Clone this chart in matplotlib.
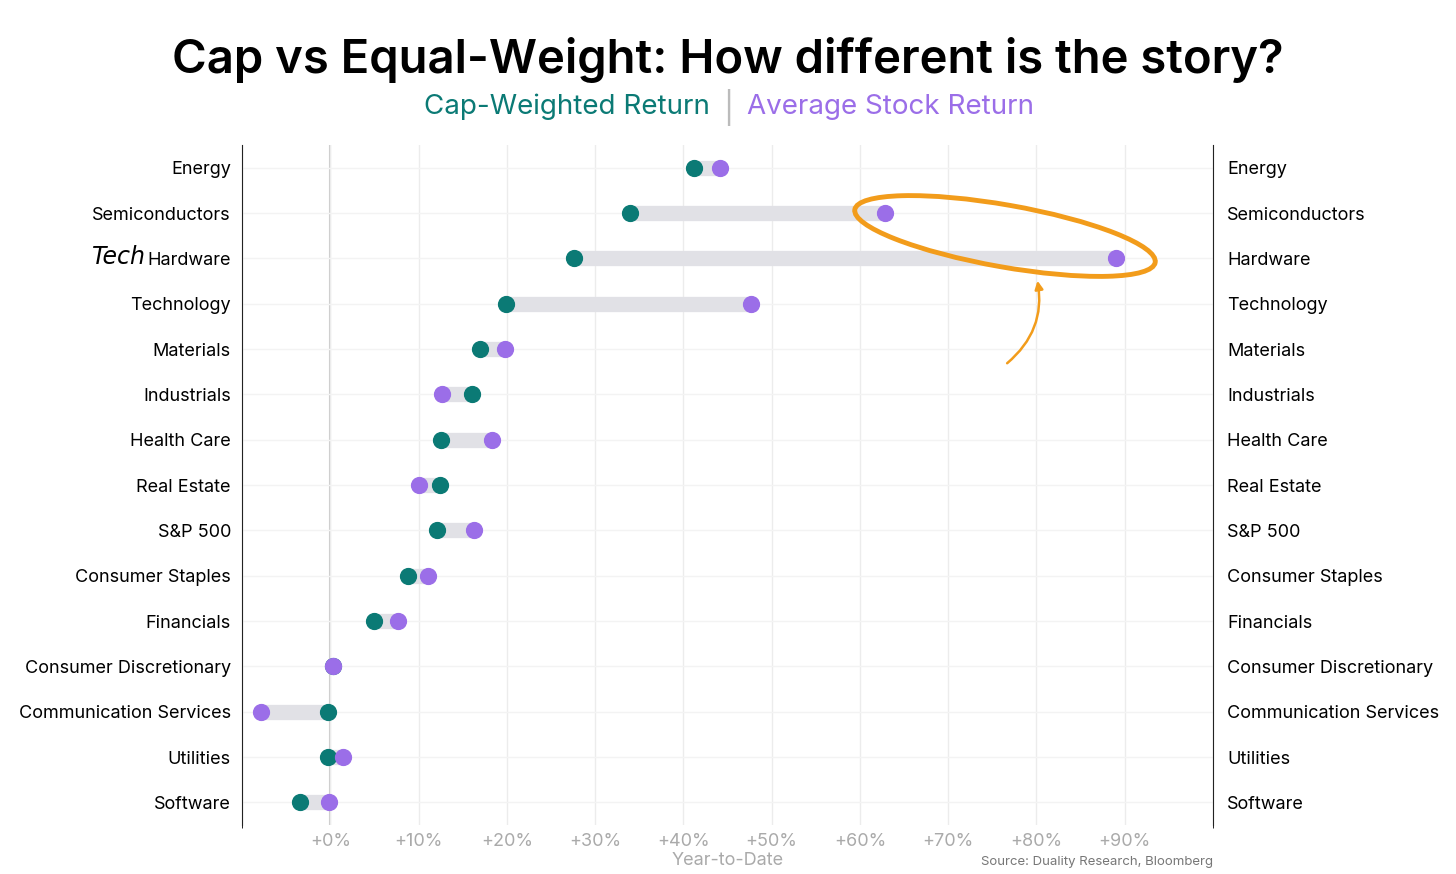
import matplotlib.pyplot as plt
import numpy as np
from matplotlib.patches import Ellipse
from matplotlib.transforms import IdentityTransform

sectors = ['Energy', 'Semiconductors', 'Hardware', 'Technology', 'Materials', 'Industrials',
           'Health Care', 'Real Estate', 'S&P 500', 'Consumer Staples', 'Financials',
           'Consumer Discretionary', 'Communication Services', 'Utilities', 'Software']
cap_ret = [41.2, 33.9, 27.6, 19.9, 17.0, 16.1, 12.6, 12.4, 12.1, 8.8, 4.9, 0.3, -0.2, -0.2, -3.4]
avg_ret = [44.1, 62.9, 89.0, 47.7, 19.8, 12.7, 18.3, 10.0, 16.3, 11.1, 7.7, 0.3, -7.9, 1.4, -0.1]
ticks = [0, 10, 20, 30, 40, 50, 60, 70, 80, 90]

teal = '#0b7a75'
purple = '#9b6ee8'
plt.rcParams['font.family'] = ['Inter', 'DejaVu Sans']

fig = plt.figure(figsize=(14.56, 8.74), dpi=100)
ax = fig.add_axes([0.1662, 0.056, 0.6669, 0.778])
y = np.arange(len(sectors))

for i in range(len(sectors)):
    ax.plot([cap_ret[i], avg_ret[i]], [y[i], y[i]], color='#e1e1e6', lw=11,
            solid_capstyle='butt', zorder=2)
ax.scatter(cap_ret, y, s=130, color=teal, zorder=3)
ax.scatter(avg_ret, y, s=130, color=purple, zorder=4)

ax.set_xlim(-10, 100)
ax.set_ylim(len(sectors) - 0.5, -0.5)
ax.set_xticks(ticks)
ax.set_xticklabels(['+%d%%' % t for t in ticks], color='#aaaaaa', fontsize=13)
ax.set_xticks(np.arange(-10, 101, 10), minor=True)
ax.grid(True, which='both', axis='x', color='#ececec', lw=1, zorder=0)
ax.set_yticks(y)
ax.grid(True, axis='y', color='#f3f3f3', lw=1, zorder=0)
ax.axvline(0, color='#c8c8c8', lw=1.5, zorder=1)
ax.set_yticklabels(sectors, fontsize=13)
ax.tick_params(axis='y', length=0, pad=8)
ax.tick_params(axis='x', length=0, pad=6)
for s in ['top', 'bottom']:
    ax.spines[s].set_visible(False)
ax.spines['left'].set_color('#222222')
ax.spines['right'].set_color('#222222')
ax.set_xlabel('Year-to-Date', color='#aaaaaa', fontsize=13, labelpad=1)

ax2 = ax.twinx()
ax2.set_ylim(ax.get_ylim())
ax2.set_yticks(y)
ax2.set_yticklabels(sectors, fontsize=13)
ax2.tick_params(length=0, pad=10)
for s in ['top', 'bottom', 'left', 'right']:
    ax2.spines[s].set_visible(False)

fig.text(146 / 1456, 1 - 257 / 874, 'Tech', fontsize=17, style='italic', va='center',
         ha='right', family=['DejaVu Sans'])

fig.text(0.5, 1 - 60 / 874, 'Cap vs Equal-Weight: How different is the story?',
         ha='center', va='center', fontsize=34, fontweight='semibold')
fig.text(710 / 1456, 1 - 107 / 874, 'Cap-Weighted Return', ha='right', va='center',
         fontsize=20, color=teal)
fig.text(728 / 1456, 1 - 107 / 874, '|', ha='center', va='center', fontsize=22, color='#bbbbbb')
fig.text(747 / 1456, 1 - 107 / 874, 'Average Stock Return', ha='left', va='center',
         fontsize=20, color=purple)
fig.text(1213 / 1456, 1 - 862 / 874, 'Source: Duality Research, Bloomberg', ha='right',
         va='center', fontsize=9.5, color='#777777')

ell = Ellipse((1005, 874 - 236), 305, 62, angle=-10, transform=IdentityTransform(),
              fill=False, edgecolor='#f29c1b', lw=3.5, zorder=10)
fig.patches.append(ell)
fig.patches[-1].set_figure(fig)
ax.annotate('', xy=(1037, 874 - 278), xytext=(1005, 874 - 365),
            xycoords=IdentityTransform(), textcoords=IdentityTransform(),
            arrowprops=dict(arrowstyle='-|>', color='#f29c1b', lw=1.8,
                            connectionstyle='arc3,rad=0.3', mutation_scale=12))

fig.savefig('out.png', dpi=100, facecolor='white')
